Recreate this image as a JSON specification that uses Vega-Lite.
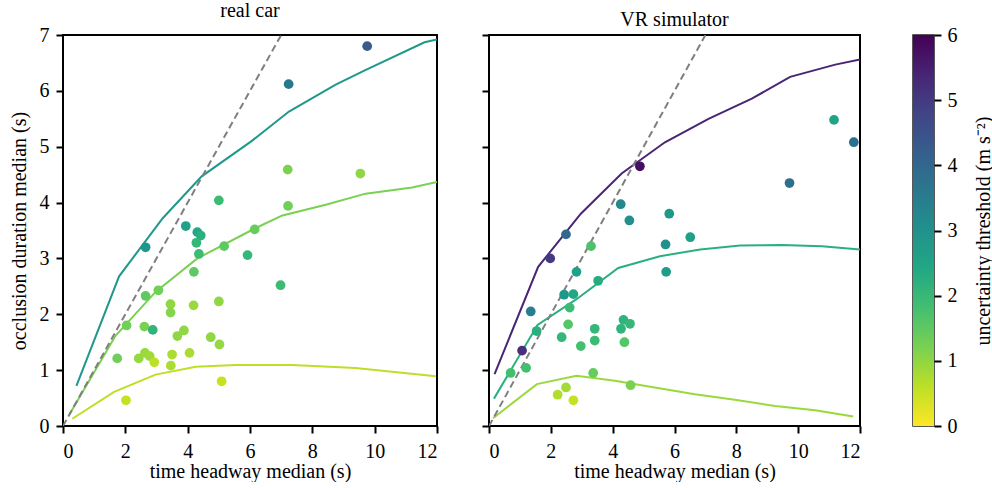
{
  "$schema": "https://vega.github.io/schema/vega-lite/v6.json",
  "background": "white",
  "padding": {"left": 8, "top": 0, "right": 0, "bottom": 0},
  "config": {
    "font": "Liberation Serif",
    "view": {"stroke": "black", "strokeWidth": 2},
    "axis": {
      "grid": false, "domain": false,
      "labelFont": "Liberation Serif", "titleFont": "Liberation Serif",
      "labelFontSize": 20, "titleFontSize": 20, "titleFontWeight": "normal",
      "labelColor": "black", "titleColor": "black", "tickColor": "black",
      "tickSize": 7, "tickWidth": 2, "labelPadding": 5
    },
    "title": {"font": "Liberation Serif", "fontSize": 20, "fontWeight": "normal", "color": "black", "offset": 4}
  },
  "datasets": {
    "car_pts": [
      {"x": 9.76, "y": 6.80, "thr": 4.3}, {"x": 7.24, "y": 6.12, "thr": 3.6},
      {"x": 7.21, "y": 4.59, "thr": 1.2}, {"x": 9.54, "y": 4.52, "thr": 1.0},
      {"x": 5.00, "y": 4.04, "thr": 1.9}, {"x": 7.22, "y": 3.94, "thr": 1.3},
      {"x": 3.94, "y": 3.58, "thr": 2.6}, {"x": 4.31, "y": 3.47, "thr": 2.4},
      {"x": 4.42, "y": 3.41, "thr": 2.2}, {"x": 4.28, "y": 3.28, "thr": 2.0},
      {"x": 2.65, "y": 3.20, "thr": 2.8}, {"x": 4.36, "y": 3.08, "thr": 1.9},
      {"x": 5.17, "y": 3.22, "thr": 1.5}, {"x": 6.15, "y": 3.52, "thr": 1.4},
      {"x": 5.92, "y": 3.06, "thr": 2.0}, {"x": 4.20, "y": 2.76, "thr": 1.5},
      {"x": 6.98, "y": 2.52, "thr": 1.9}, {"x": 3.06, "y": 2.43, "thr": 1.3},
      {"x": 2.65, "y": 2.33, "thr": 1.5}, {"x": 3.45, "y": 2.18, "thr": 1.0},
      {"x": 3.45, "y": 2.03, "thr": 1.1}, {"x": 4.19, "y": 2.16, "thr": 0.9},
      {"x": 5.00, "y": 2.23, "thr": 1.0}, {"x": 2.04, "y": 1.80, "thr": 1.3},
      {"x": 2.61, "y": 1.78, "thr": 1.2}, {"x": 2.88, "y": 1.72, "thr": 2.1},
      {"x": 3.88, "y": 1.71, "thr": 1.0}, {"x": 3.67, "y": 1.61, "thr": 1.0},
      {"x": 4.74, "y": 1.59, "thr": 1.0}, {"x": 5.02, "y": 1.46, "thr": 0.95},
      {"x": 1.74, "y": 1.21, "thr": 1.3}, {"x": 2.43, "y": 1.21, "thr": 0.95},
      {"x": 2.63, "y": 1.31, "thr": 0.9}, {"x": 2.78, "y": 1.25, "thr": 0.85},
      {"x": 2.93, "y": 1.14, "thr": 0.6}, {"x": 3.50, "y": 1.28, "thr": 0.75},
      {"x": 3.46, "y": 1.08, "thr": 0.75}, {"x": 4.06, "y": 1.31, "thr": 0.75},
      {"x": 5.09, "y": 0.80, "thr": 0.5}, {"x": 2.02, "y": 0.46, "thr": 0.5}
    ],
    "vr_pts": [
      {"x": 4.88, "y": 4.65, "thr": 5.8}, {"x": 11.16, "y": 5.48, "thr": 2.5},
      {"x": 11.80, "y": 5.08, "thr": 3.8}, {"x": 9.72, "y": 4.35, "thr": 3.8},
      {"x": 4.26, "y": 3.97, "thr": 3.2}, {"x": 4.54, "y": 3.68, "thr": 3.0},
      {"x": 5.83, "y": 3.80, "thr": 2.8}, {"x": 2.49, "y": 3.43, "thr": 4.0},
      {"x": 3.30, "y": 3.22, "thr": 1.7}, {"x": 1.98, "y": 3.00, "thr": 5.0},
      {"x": 5.71, "y": 3.25, "thr": 3.0}, {"x": 6.51, "y": 3.38, "thr": 2.6},
      {"x": 5.73, "y": 2.76, "thr": 2.7}, {"x": 2.83, "y": 2.76, "thr": 2.6},
      {"x": 3.53, "y": 2.60, "thr": 2.3}, {"x": 2.43, "y": 2.35, "thr": 2.8},
      {"x": 2.73, "y": 2.36, "thr": 2.4}, {"x": 2.61, "y": 2.12, "thr": 1.9},
      {"x": 1.35, "y": 2.05, "thr": 3.5}, {"x": 2.56, "y": 1.82, "thr": 1.6},
      {"x": 3.42, "y": 1.74, "thr": 2.0}, {"x": 2.35, "y": 1.59, "thr": 2.0},
      {"x": 2.97, "y": 1.43, "thr": 1.8}, {"x": 3.42, "y": 1.53, "thr": 1.9},
      {"x": 4.35, "y": 1.90, "thr": 2.1}, {"x": 4.56, "y": 1.83, "thr": 2.0},
      {"x": 4.27, "y": 1.74, "thr": 2.1}, {"x": 4.38, "y": 1.50, "thr": 1.6},
      {"x": 1.54, "y": 1.70, "thr": 2.2}, {"x": 1.07, "y": 1.35, "thr": 5.2},
      {"x": 0.70, "y": 0.95, "thr": 1.8}, {"x": 1.20, "y": 1.04, "thr": 1.8},
      {"x": 3.37, "y": 0.95, "thr": 1.4}, {"x": 4.58, "y": 0.73, "thr": 1.2},
      {"x": 2.49, "y": 0.69, "thr": 0.8}, {"x": 2.22, "y": 0.56, "thr": 0.7},
      {"x": 2.73, "y": 0.46, "thr": 0.5}
    ],
    "car_lines": [
      {"x": 0.43, "y": 0.72, "thr": 2.8}, {"x": 1.8, "y": 2.68, "thr": 2.8},
      {"x": 3.2, "y": 3.72, "thr": 2.8}, {"x": 4.45, "y": 4.47, "thr": 2.8},
      {"x": 6.05, "y": 5.1, "thr": 2.8}, {"x": 7.25, "y": 5.63, "thr": 2.8},
      {"x": 8.75, "y": 6.11, "thr": 2.8}, {"x": 9.7, "y": 6.37, "thr": 2.8},
      {"x": 11.6, "y": 6.87, "thr": 2.8}, {"x": 12.0, "y": 6.92, "thr": 2.8},
      {"x": 0.2, "y": 0.2, "thr": 1.2}, {"x": 1.69, "y": 1.62, "thr": 1.2},
      {"x": 2.97, "y": 2.40, "thr": 1.2}, {"x": 4.31, "y": 3.0, "thr": 1.2},
      {"x": 6.17, "y": 3.54, "thr": 1.2}, {"x": 7.04, "y": 3.77, "thr": 1.2},
      {"x": 8.43, "y": 3.96, "thr": 1.2}, {"x": 9.71, "y": 4.16, "thr": 1.2},
      {"x": 11.2, "y": 4.27, "thr": 1.2}, {"x": 12.0, "y": 4.37, "thr": 1.2},
      {"x": 0.3, "y": 0.13, "thr": 0.6}, {"x": 1.64, "y": 0.61, "thr": 0.6},
      {"x": 2.97, "y": 0.92, "thr": 0.6}, {"x": 4.26, "y": 1.06, "thr": 0.6},
      {"x": 5.54, "y": 1.09, "thr": 0.6}, {"x": 7.36, "y": 1.09, "thr": 0.6},
      {"x": 9.39, "y": 1.04, "thr": 0.6}, {"x": 11.96, "y": 0.89, "thr": 0.6}
    ],
    "vr_lines": [
      {"x": 0.18, "y": 0.93, "thr": 5.4}, {"x": 1.59, "y": 2.85, "thr": 5.4},
      {"x": 2.97, "y": 3.80, "thr": 5.4}, {"x": 4.29, "y": 4.52, "thr": 5.4},
      {"x": 5.69, "y": 5.08, "thr": 5.4}, {"x": 7.10, "y": 5.50, "thr": 5.4},
      {"x": 8.50, "y": 5.86, "thr": 5.4}, {"x": 9.74, "y": 6.25, "thr": 5.4},
      {"x": 11.2, "y": 6.47, "thr": 5.4}, {"x": 12.0, "y": 6.56, "thr": 5.4},
      {"x": 0.16, "y": 0.49, "thr": 2.2}, {"x": 1.57, "y": 1.81, "thr": 2.2},
      {"x": 2.83, "y": 2.27, "thr": 2.2}, {"x": 4.18, "y": 2.83, "thr": 2.2},
      {"x": 5.53, "y": 3.04, "thr": 2.2}, {"x": 6.83, "y": 3.16, "thr": 2.2},
      {"x": 8.12, "y": 3.23, "thr": 2.2}, {"x": 9.47, "y": 3.24, "thr": 2.2},
      {"x": 10.77, "y": 3.22, "thr": 2.2}, {"x": 12.0, "y": 3.16, "thr": 2.2},
      {"x": 0.13, "y": 0.14, "thr": 0.9}, {"x": 1.55, "y": 0.75, "thr": 0.9},
      {"x": 2.83, "y": 0.90, "thr": 0.9}, {"x": 4.07, "y": 0.81, "thr": 0.9},
      {"x": 5.36, "y": 0.69, "thr": 0.9}, {"x": 6.66, "y": 0.57, "thr": 0.9},
      {"x": 7.95, "y": 0.47, "thr": 0.9}, {"x": 9.25, "y": 0.36, "thr": 0.9},
      {"x": 10.55, "y": 0.28, "thr": 0.9}, {"x": 11.78, "y": 0.17, "thr": 0.9}
    ],
    "diag": [{"x": 0, "y": 0}, {"x": 7, "y": 7}],
    "cbar": [{"lo": 0, "hi": 6}]
  },
  "spacing": 50,
  "hconcat": [
    {
      "spacing": 41,
      "hconcat": [
        {
          "title": "real car",
          "width": 374, "height": 391,
          "encoding": {
            "x": {"field": "x", "type": "quantitative", "scale": {"domain": [0, 12], "nice": false, "zero": false}, "axis": {"values": [0, 2, 4, 6, 8, 10, 12], "title": "time headway median (s)", "titlePadding": 0, "labelPadding": 8}},
            "y": {"field": "y", "type": "quantitative", "scale": {"domain": [0, 7], "nice": false, "zero": false}, "axis": {"values": [0, 1, 2, 3, 4, 5, 6, 7], "title": "occlusion duration median (s)", "titlePadding": 10, "labelPadding": 7}}
          },
          "layer": [
            {
              "data": {"name": "car_lines"},
              "mark": {"type": "line", "strokeWidth": 2, "clip": true},
              "encoding": {
                "detail": {"field": "thr", "type": "nominal"},
                "color": {"field": "thr", "type": "quantitative", "scale": {"scheme": "viridis", "reverse": true, "domain": [0, 6]}, "legend": null}
              }
            },
            {
              "data": {"name": "diag"},
              "mark": {"type": "line", "color": "#7f7f7f", "strokeWidth": 2, "strokeDash": [7, 4], "clip": true},
              "encoding": {}
            },
            {
              "data": {"name": "car_pts"},
              "mark": {"type": "circle", "size": 95, "opacity": 1},
              "encoding": {
                "color": {"field": "thr", "type": "quantitative", "scale": {"scheme": "viridis", "reverse": true, "domain": [0, 6]}, "legend": null}
              }
            }
          ]
        },
        {
          "title": "VR simulator",
          "width": 371, "height": 391,
          "encoding": {
            "x": {"field": "x", "type": "quantitative", "scale": {"domain": [0, 12], "nice": false, "zero": false}, "axis": {"values": [0, 2, 4, 6, 8, 10, 12], "title": "time headway median (s)", "titlePadding": 0, "labelPadding": 8}},
            "y": {"field": "y", "type": "quantitative", "scale": {"domain": [0, 7], "nice": false, "zero": false}, "axis": {"values": [0, 1, 2, 3, 4, 5, 6, 7], "labels": false, "title": null}}
          },
          "layer": [
            {
              "data": {"name": "vr_lines"},
              "mark": {"type": "line", "strokeWidth": 2, "clip": true},
              "encoding": {
                "detail": {"field": "thr", "type": "nominal"},
                "color": {"field": "thr", "type": "quantitative", "scale": {"scheme": "viridis", "reverse": true, "domain": [0, 6]}, "legend": null}
              }
            },
            {
              "data": {"name": "diag"},
              "mark": {"type": "line", "color": "#7f7f7f", "strokeWidth": 2, "strokeDash": [7, 4], "clip": true},
              "encoding": {}
            },
            {
              "data": {"name": "vr_pts"},
              "mark": {"type": "circle", "size": 95, "opacity": 1},
              "encoding": {
                "color": {"field": "thr", "type": "quantitative", "scale": {"scheme": "viridis", "reverse": true, "domain": [0, 6]}, "legend": null}
              }
            }
          ]
        }
      ]
    },
    {
      "width": 21, "height": 391,
      "view": {"stroke": "#222222", "strokeWidth": 1.5},
      "data": {"name": "cbar"},
      "mark": {
        "type": "rect",
        "fill": {
          "gradient": "linear", "x1": 0, "y1": 0, "x2": 0, "y2": 1,
          "stops": [
            {"offset": 0.0, "color": "#440154"}, {"offset": 0.1, "color": "#482475"},
            {"offset": 0.2, "color": "#414487"}, {"offset": 0.3, "color": "#355f8d"},
            {"offset": 0.4, "color": "#2a788e"}, {"offset": 0.5, "color": "#21918c"},
            {"offset": 0.6, "color": "#22a884"}, {"offset": 0.7, "color": "#44bf70"},
            {"offset": 0.8, "color": "#7ad151"}, {"offset": 0.9, "color": "#bddf26"},
            {"offset": 1.0, "color": "#fde725"}
          ]
        }
      },
      "encoding": {
        "y": {"field": "lo", "type": "quantitative", "scale": {"domain": [0, 6], "nice": false}, "axis": {"orient": "right", "values": [0, 1, 2, 3, 4, 5, 6], "title": "uncertainty threshold (m s⁻²)", "titleAngle": -90, "titleBaseline": "top", "titlePadding": 16, "labelPadding": 6}},
        "y2": {"field": "hi"}
      }
    }
  ]
}
